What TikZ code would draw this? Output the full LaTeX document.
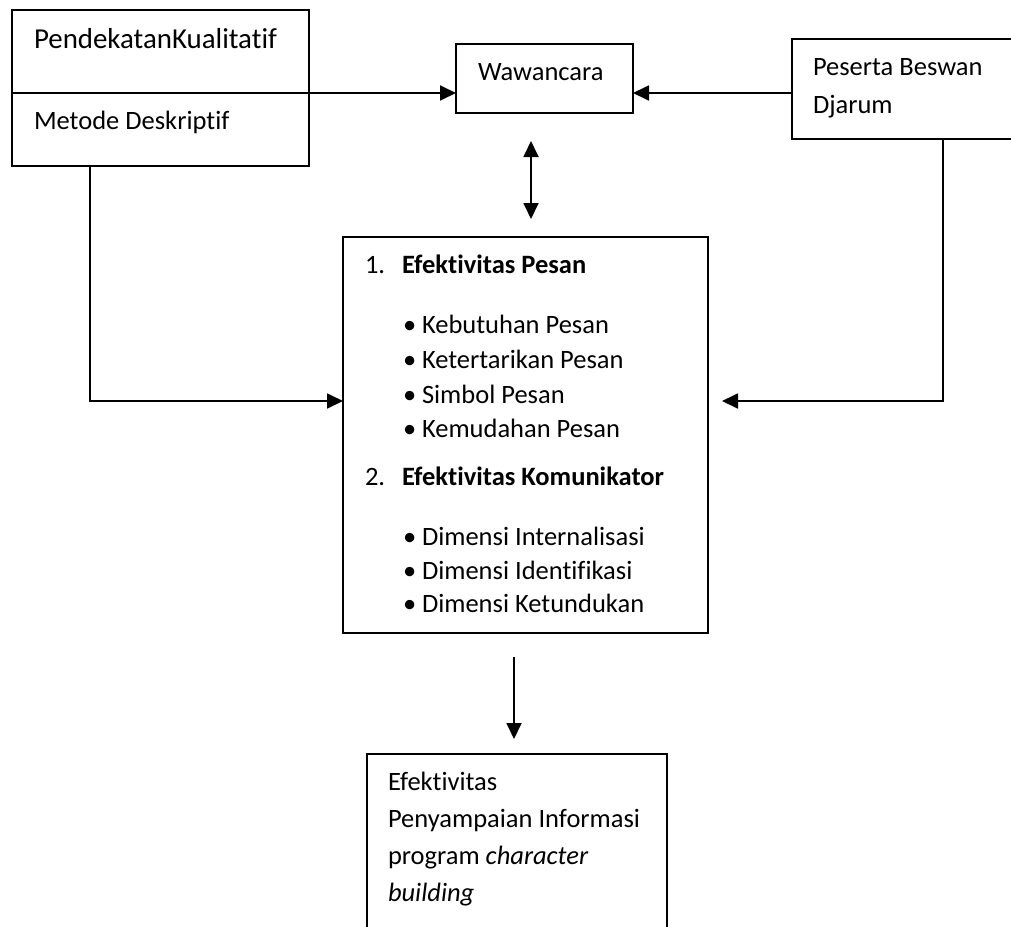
\documentclass[tikz,border=0pt]{standalone}
\usepackage{fontspec}
\setmainfont{Carlito}[Ligatures={NoCommon,NoContextual}]
\usetikzlibrary{arrows.meta}
\begin{document}
\begin{tikzpicture}[x=1pt,y=-1pt,
  box/.style={draw, line width=1.8pt, inner sep=0pt, outer sep=0pt, anchor=north west},
  txt/.style={anchor=base west, inner sep=0pt, outer sep=0pt, font=\fontsize{26.5}{30}\selectfont},
  bigtxt/.style={txt, font=\fontsize{28.9}{33}\selectfont},
  conn/.style={line width=1.8pt, -{Triangle[length=16pt,width=15pt]}},
  dconn/.style={line width=1.8pt, {Triangle[length=16pt,width=15pt]}-{Triangle[length=16pt,width=15pt]}},
]
\useasboundingbox (0,0) rectangle (1011,926);
\clip (0,0) rectangle (1011,926);

% boxes
\node[box, minimum width=297pt, minimum height=83pt] (kual) at (12,10) {};
\node[box, minimum width=297pt, minimum height=73pt] (metode) at (12,93) {};
\node[box, minimum width=177pt, minimum height=69pt] (waw) at (456,44) {};
\node[box, minimum width=260pt, minimum height=100pt] (peserta) at (792,39) {};
\node[box, minimum width=365pt, minimum height=396pt] (main) at (343,237) {};
\node[box, minimum width=300pt, minimum height=220pt] (hasil) at (367,754) {};

% texts
\node[bigtxt] (t1) at (34,48) {PendekatanKualitatif};
\node[txt] (t2) at (34,129) {Metode Deskriptif};
\node[txt] (t3) at (478,80) {Wawancara};
\node[txt] (t4) at (813,75) {Peserta Beswan};
\node[txt] (t5) at (813,113) {Djarum};

\node[txt] (n1) at (365,273) {1.};
\node[txt] (h1) at (402,273) {\bfseries Efektivitas Pesan};
\node[txt] (b1) at (403,333) {•}; \node[txt] (i1) at (422,333) {Kebutuhan Pesan};
\node[txt] (b2) at (403,368) {•}; \node[txt] (i2) at (422,368) {Ketertarikan Pesan};
\node[txt] (b3) at (403,403) {•}; \node[txt] (i3) at (422,403) {Simbol Pesan};
\node[txt] (b4) at (403,437) {•}; \node[txt] (i4) at (422,437) {Kemudahan Pesan};
\node[txt] (n2) at (365,485) {2.};
\node[txt] (h2) at (402,485) {\bfseries Efektivitas Komunikator};
\node[txt] (b5) at (403,545) {•}; \node[txt] (i5) at (422,545) {Dimensi Internalisasi};
\node[txt] (b6) at (403,579) {•}; \node[txt] (i6) at (422,579) {Dimensi Identifikasi};
\node[txt] (b7) at (403,612) {•}; \node[txt] (i7) at (422,612) {Dimensi Ketundukan};

\node[txt] (r1) at (388,790) {Efektivitas};
\node[txt] (r2) at (388,827) {Penyampaian Informasi};
\node[txt] (r3) at (388,864) {program \textit{character}};
\node[txt] (r4) at (388,901) {\textit{building}};

% connectors
\draw[conn] (kual.south east) -- (kual.south east -| waw.west);
\draw[conn] (peserta.west |- kual.south east) -- (waw.east |- kual.south east);
\coordinate (da1) at (531,141);
\coordinate (da2) at (531,219);
\draw[dconn] (da1) -- (da2);
\coordinate (lv) at ([xshift=78pt]metode.south west);
\coordinate (ml) at (main.west |- 0,401);
\draw[conn] (lv) |- (ml);
\coordinate (rv) at ([xshift=151pt]peserta.south west);
\coordinate (rend) at (722,401);
\draw[conn] (rv) |- (rend);
\coordinate (d1) at (514,657);
\coordinate (d2) at (514,739);
\draw[conn] (d1) -- (d2);
\end{tikzpicture}
\end{document}
